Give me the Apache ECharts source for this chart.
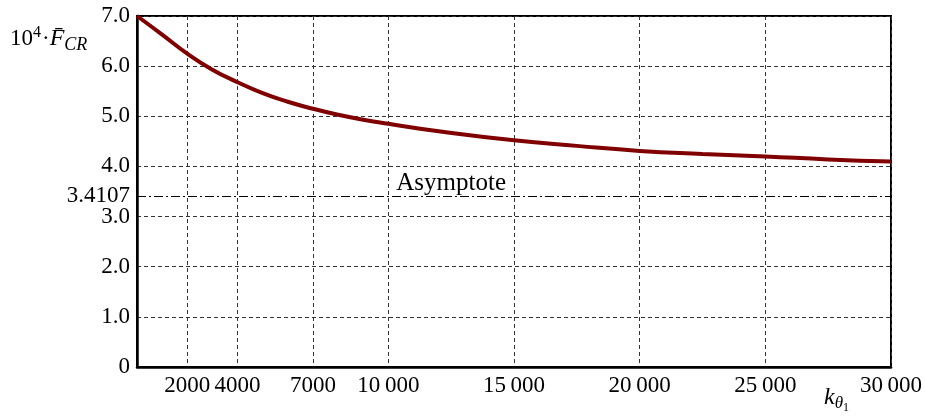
<!DOCTYPE html>
<html>
<head>
<meta charset="utf-8">
<script src="https://cdn.jsdelivr.net/npm/echarts@6/dist/echarts.min.js"></script>
<style>
  html, body { margin: 0; padding: 0; background: #fff; }
  #chart { width: 925px; height: 416px; }
</style>
</head>
<body>
<div id="chart"></div>
<script>
// stiffness k_theta1 and buckling load 10^4 * F_CR
var kTheta = [0, 1000, 2000, 3000, 4000, 5000, 6000, 7000, 8000, 9000, 10000,
    12000, 15000, 17500, 20000, 22500, 25000, 27500, 30000];
var fCR = [7.0, 6.63, 6.25, 5.93, 5.68, 5.46, 5.29, 5.15, 5.03, 4.93, 4.85,
    4.70, 4.52, 4.41, 4.31, 4.25, 4.20, 4.14, 4.10];
var xTicks = [2000, 4000, 7000, 10000, 15000, 20000, 25000, 30000];
var yTicks = [0, 1, 2, 3, 3.4107, 4, 5, 6, 7];
var asymptote = 3.4107;

var chartDom = document.getElementById('chart');
var myChart = echarts.init(chartDom);
var font = 'Liberation Serif, DejaVu Serif, serif';

var points = kTheta.map(function (k, i) { return [k, fCR[i]]; });

var option = {
    animation: false,
    textStyle: { fontFamily: font },
    grid: {
        left: 137, right: 34, top: 16, bottom: 49,
        outerBoundsMode: 'none',
        containLabel: false,
        show: true, borderColor: '#000', borderWidth: 2
    },
    xAxis: {
        type: 'value',
        min: 0,
        max: 30000,
        axisLine: { show: true, lineStyle: { color: '#000', width: 2.5 } },
        axisTick: { show: false, customValues: xTicks },
        axisLabel: {
            customValues: xTicks,
            margin: 7,
            fontSize: 23,
            fontFamily: font,
            color: '#000',
            formatter: function (v) {
                if (v >= 10000) {
                    var s = String(v);
                    return s.slice(0, s.length - 3) + '\u2009' + s.slice(-3);
                }
                return String(v);
            }
        },
        splitLine: { show: true, lineStyle: { color: '#333', type: [4, 3], width: 1 } }
    },
    yAxis: {
        type: 'value',
        min: 0,
        max: 7,
        interval: 1,
        axisLine: { show: true, lineStyle: { color: '#000', width: 2.5 } },
        axisTick: { show: false },
        axisLabel: {
            customValues: yTicks,
            margin: 7,
            fontSize: 23,
            fontFamily: font,
            color: '#000',
            formatter: function (v) {
                if (v === 0) return '0';
                if (Math.abs(v - asymptote) < 1e-6) return '3.4107';
                return v.toFixed(1);
            }
        },
        splitLine: { show: true, lineStyle: { color: '#333', type: [4, 3], width: 1 } }
    },
    graphic: [{
        type: 'text',
        left: 10,
        top: 25,
        style: {
            text: '{n|10}{p|4}{n|·}{i|F̄}{s|CR}',
            rich: {
                n: { fontFamily: font, fontSize: 23, color: '#000' },
                p: { fontFamily: font, fontSize: 16, color: '#000', padding: [0, 1, 12, 0] },
                i: { fontFamily: font, fontStyle: 'italic', fontSize: 24, color: '#000' },
                s: { fontFamily: font, fontStyle: 'italic', fontSize: 18, color: '#000', padding: [12, 0, 0, 0] }
            }
        }
    }, {
        type: 'text',
        left: 824,
        top: 386,
        style: {
            text: '{i|k}{s|θ}{t|1}',
            rich: {
                i: { fontFamily: font, fontStyle: 'italic', fontSize: 24, color: '#000' },
                s: { fontFamily: font, fontStyle: 'italic', fontSize: 17, color: '#000', padding: [12, 0, 0, 0] },
                t: { fontFamily: font, fontSize: 12, color: '#000', padding: [20, 0, 0, 0] }
            }
        }
    }],
    series: [{
        type: 'line',
        data: points,
        smooth: true,
        symbol: 'none',
        lineStyle: { color: '#800000', width: 4 },
        markLine: {
            silent: true,
            symbol: 'none',
            label: { show: false },
            lineStyle: { color: '#000', type: [9, 3, 2, 3], width: 1 },
            data: [{ yAxis: asymptote }]
        },
        markPoint: {
            silent: true,
            symbol: 'circle',
            symbolSize: 0,
            label: {
                show: true,
                position: 'top',
                distance: 0,
                formatter: 'Asymptote',
                fontFamily: font,
                fontSize: 25,
                color: '#000'
            },
            data: [{ coord: [12500, asymptote] }]
        }
    }]
};
option && myChart.setOption(option);
</script>
</body>
</html>
